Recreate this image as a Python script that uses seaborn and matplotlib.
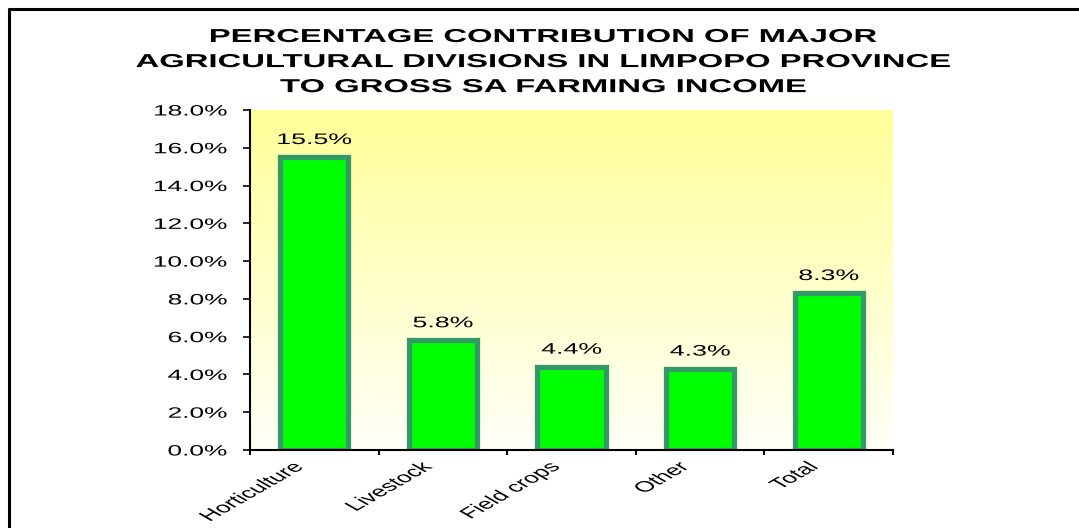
import numpy as np
import matplotlib
matplotlib.use("Agg")
import matplotlib.pyplot as plt
from matplotlib.colors import LinearSegmentedColormap
from matplotlib.lines import Line2D
from matplotlib.patheffects import AbstractPathEffect
from matplotlib.transforms import Affine2D
from matplotlib.ticker import FuncFormatter, FixedLocator
import seaborn as sns

categories = ["Horticulture", "Livestock", "Field crops", "Other", "Total"]
values = [15.5, 5.8, 4.4, 4.3, 8.3]
y_ticks = [0, 2, 4, 6, 8, 10, 12, 14, 16, 18]
title_lines = [
    "PERCENTAGE CONTRIBUTION OF MAJOR",
    "AGRICULTURAL DIVISIONS IN LIMPOPO PROVINCE",
    "TO GROSS SA FARMING INCOME",
]

STRETCH = 1.75  # horizontal widening of all lettering


class HStretch(AbstractPathEffect):
    """Widen glyphs horizontally about an anchor point of each text line."""

    def __init__(self, sx, anchor="center", vmid=False):
        super().__init__()
        self.sx = sx
        self.anchor = anchor
        self.vmid = vmid

    def draw_path(self, renderer, gc, tpath, affine, rgbFace=None):
        ext = tpath.get_extents()
        gx = {"left": ext.x0, "center": 0.5 * (ext.x0 + ext.x1),
              "right": ext.x1}[self.anchor]
        gy = 0.5 * (ext.y0 + ext.y1) if self.vmid else 0.0
        px, py = affine.transform((gx, gy))
        widen = Affine2D().translate(-px, -py).scale(self.sx, 1).translate(px, py)
        renderer.draw_path(gc, tpath, affine + widen, rgbFace)


sns.set_style("white")
plt.rcParams["font.family"] = ["Liberation Sans", "DejaVu Sans"]
plt.rcParams["text.color"] = "black"
plt.rcParams["xtick.color"] = "black"
plt.rcParams["ytick.color"] = "black"

fig = plt.figure(figsize=(10.79, 5.28), dpi=100)
ax = fig.add_axes([250 / 1079, 1 - 450 / 528, 643 / 1079, 340 / 528])

# yellow-to-white gradient behind the bars
grad = LinearSegmentedColormap.from_list("bg", ["#FFFFF8", "#FFFF99"])
ax.imshow(np.linspace(0, 1, 256).reshape(-1, 1), aspect="auto", cmap=grad,
          extent=(-0.5, 4.5, 0, 18), origin="lower", zorder=0)

sns.barplot(x=categories, y=values, color="#00FF00", edgecolor="#339966",
            linewidth=3.8, width=0.53, saturation=1, ax=ax, zorder=2)

ax.set_xlim(-0.5, 4.5)
ax.set_ylim(0, 18)
ax.set_yticks(y_ticks)
ax.yaxis.set_major_formatter(FuncFormatter(lambda v, _: f"{v:.1f}%"))
ax.tick_params(axis="y", direction="out", length=5, width=1.2, labelsize=10.8,
               pad=11.5, left=True)
for lab in ax.get_yticklabels():
    lab.set_path_effects([HStretch(STRETCH, "right")])

# ticks at category boundaries, labels near category centres
ax.xaxis.set_major_locator(FixedLocator(np.arange(-0.5, 5, 1)))
ax.xaxis.set_major_formatter(FuncFormatter(lambda v, _: ""))
ax.xaxis.set_minor_locator(FixedLocator(np.arange(len(categories)) - 0.12))
ax.set_xticklabels(categories, minor=True)
ax.tick_params(axis="x", which="major", direction="out", length=3.5, width=1.5,
               bottom=True)
ax.tick_params(axis="x", which="minor", length=0, pad=10.5, labelsize=10.8)
for lab in ax.get_xticklabels(minor=True):
    lab.set_rotation(45)
    lab.set_ha("right")
    lab.set_va("center")
    lab.set_rotation_mode("anchor")
    lab.set_path_effects([HStretch(STRETCH, "right", vmid=True)])

ax.set_xlabel("")
ax.set_ylabel("")
for side in ("top", "right"):
    ax.spines[side].set_visible(False)
for side in ("left", "bottom"):
    ax.spines[side].set_color("black")
    ax.spines[side].set_linewidth(1.5)
    ax.spines[side].set_zorder(3)

for i, v in enumerate(values):
    ax.annotate(f"{v:.1f}%", (i, v), xytext=(0, 9.5), textcoords="offset points",
                ha="center", va="baseline", fontsize=11, color="black",
                path_effects=[HStretch(STRETCH, "center")])

fig.text(543 / 1079, 1 - 29 / 528, "\n".join(title_lines), ha="center",
         va="top", fontsize=13.5, fontweight="bold", linespacing=1.62,
         color="black", path_effects=[HStretch(STRETCH, "center")])

# outer frame (top and left edges)
fig.add_artist(Line2D([8.5 / 1079, 1], [1 - 9 / 528, 1 - 9 / 528],
                      transform=fig.transFigure, color="black", lw=2.2))
fig.add_artist(Line2D([8.5 / 1079, 8.5 / 1079], [0, 1 - 9 / 528],
                      transform=fig.transFigure, color="black", lw=2.2))

fig.savefig("out.png", dpi=100)
